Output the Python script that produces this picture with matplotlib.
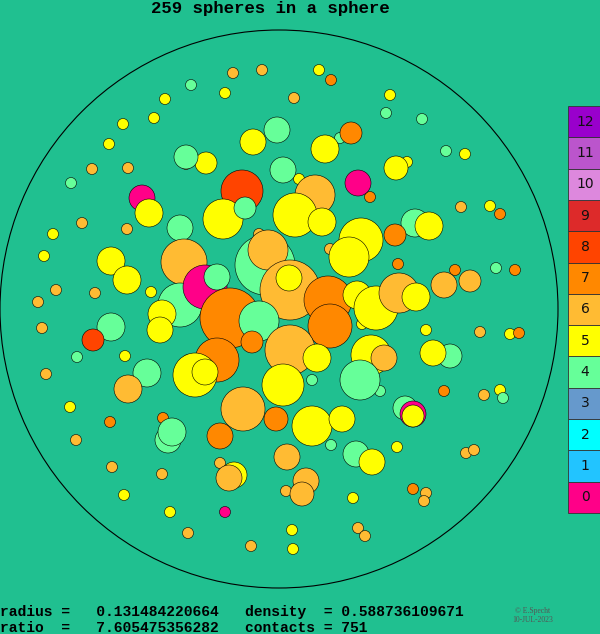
import matplotlib
matplotlib.use("Agg")
import matplotlib.pyplot as plt
from matplotlib.patches import Circle, Rectangle

palette = ['#ff0088', '#22c4ff', '#00ffff', '#6699cc', '#66ff99', '#ffff00',
           '#ffbb33', '#ff8800', '#ff4400', '#dd2a2a', '#dd88dd', '#bb55cc', '#9900cc']
legend_labels = [str(i) for i in range(13)]

# small spheres: x, y, colour index (radius ~6)
small_x = [233,262,319,331,191,225,165,294,390,386,422,154,123,109,446,465,92,71,128,407,370,461,490,500,82,53,127,44,56,38,95,42,77,125,46,455,496,515,480,510,519,426,500,503,484,444,70,110,76,162,112,124,170,225,188,251,293,292,358,365,353,413,426,424,466,474,397,331,398,362,330,299,218,151,187,188,163,245,220,286,312,380,292,293,259,252,340,186]
small_y = [73,70,70,80,85,93,99,98,95,113,119,118,124,144,151,154,169,183,168,162,197,207,206,214,223,234,229,256,290,302,293,328,357,356,374,270,268,270,332,334,333,330,390,398,395,391,407,422,440,474,467,495,512,512,533,546,549,530,528,536,498,489,493,501,453,450,447,445,264,324,249,179,294,292,229,360,418,408,463,491,380,391,311,285,234,136,138,164]
small_c = [6,6,5,7,4,5,5,6,5,4,4,5,5,5,4,5,6,4,6,5,7,6,5,7,6,5,6,5,6,6,6,6,4,5,6,7,4,7,6,5,7,5,5,4,6,7,5,7,6,6,6,5,5,0,6,6,5,5,6,6,5,7,6,6,6,6,5,4,7,5,6,5,5,5,6,4,7,5,6,6,4,4,6,6,6,6,4,6]

# larger spheres: x, y, radius, colour index
big = [(206,163,11,5),(186,157,12,4),(253,142,13,5),(277,130,13,4),(283,170,13,4),(325,149,14,5),
       (351,133,11,7),(358,183,13,0),(396,168,12,5),(142,198,13,0),(149,213,14,5),(180,228,13,4),
       (242,191,21,8),(223,219,20,5),(245,208,11,4),(315,195,20,6),(295,215,22,5),(322,222,14,5),
       (415,223,14,4),(429,226,14,5),(395,235,11,7),(361,240,22,5),(349,257,20,5),(265,265,30,4),
       (268,250,20,6),(290,290,30,6),(289,278,13,5),(184,262,23,6),(111,261,14,5),(127,280,14,5),
       (180,305,22,4),(205,287,22,0),(217,277,13,4),(162,314,14,5),(160,330,13,5),(230,318,30,7),
       (259,321,20,4),(328,300,24,7),(330,326,22,7),(357,295,14,5),(376,308,22,5),(399,293,20,6),
       (416,297,14,5),(444,285,13,6),(470,281,11,6),(111,327,14,4),(93,340,11,8),(217,360,22,7),
       (195,375,22,5),(205,372,13,5),(252,342,11,7),(290,350,25,6),(317,358,14,5),(283,385,21,5),
       (371,355,20,5),(384,358,13,6),(450,356,12,4),(433,353,13,5),(360,380,20,4),(147,373,14,4),
       (128,389,14,6),(243,409,22,6),(276,419,12,7),(312,426,20,5),(342,419,13,5),(405,408,12,4),
       (413,414,13,0),(413,416,11,5),(220,436,13,7),(168,440,13,4),(172,432,14,4),(234,475,13,5),
       (229,478,13,6),(287,457,13,6),(356,454,13,4),(372,462,13,5),(306,481,13,6),(302,494,12,6)]

W, H = 600, 634
fig = plt.figure(figsize=(W/100, H/100), dpi=100)
fig.patch.set_facecolor('#20c090')
ax = fig.add_axes([0, 0, 1, 1])
ax.set_xlim(0, W); ax.set_ylim(H, 0); ax.axis('off')
ax.set_facecolor('#20c090')

ax.add_patch(Circle((279, 309), 279, fill=False, ec='black', lw=0.8))
for x, y, c in zip(small_x, small_y, small_c):
    ax.add_patch(Circle((x, y), 5.5, fc=palette[c], ec='black', lw=0.4))
for x, y, r, c in big:
    ax.add_patch(Circle((x, y), r, fc=palette[c], ec='black', lw=0.4))

# legend
top, bh = 106, 31.3
for i, lab in enumerate(legend_labels):
    y0 = top + (12 - i) * bh
    ax.add_patch(Rectangle((568, y0), 32, bh, fc=palette[i], ec='#333333', lw=0.6))
    ax.text(585, y0 + bh/2, lab, ha='center', va='center', fontsize=10, color='#111111')

ax.text(270, 8, '259 spheres in a sphere', ha='center', va='center',
        fontsize=12.5, fontweight='bold', family='Liberation Mono')
ax.text(0, 612, 'radius =   0.131484220664   density  = 0.588736109671',
        ha='left', va='center', fontsize=10.5, family='Liberation Mono', fontweight='bold')
ax.text(0, 628, 'ratio  =   7.605475356282   contacts = 751',
        ha='left', va='center', fontsize=10.5, family='Liberation Mono', fontweight='bold')
ax.text(533, 611, '© E.Specht', ha='center', va='center', fontsize=5.5, color='#555555', family='Liberation Serif')
ax.text(533, 620, '10-JUL-2023', ha='center', va='center', fontsize=5.5, color='#555555', family='Liberation Serif')

fig.savefig('out.png', dpi=100, facecolor=fig.get_facecolor())
